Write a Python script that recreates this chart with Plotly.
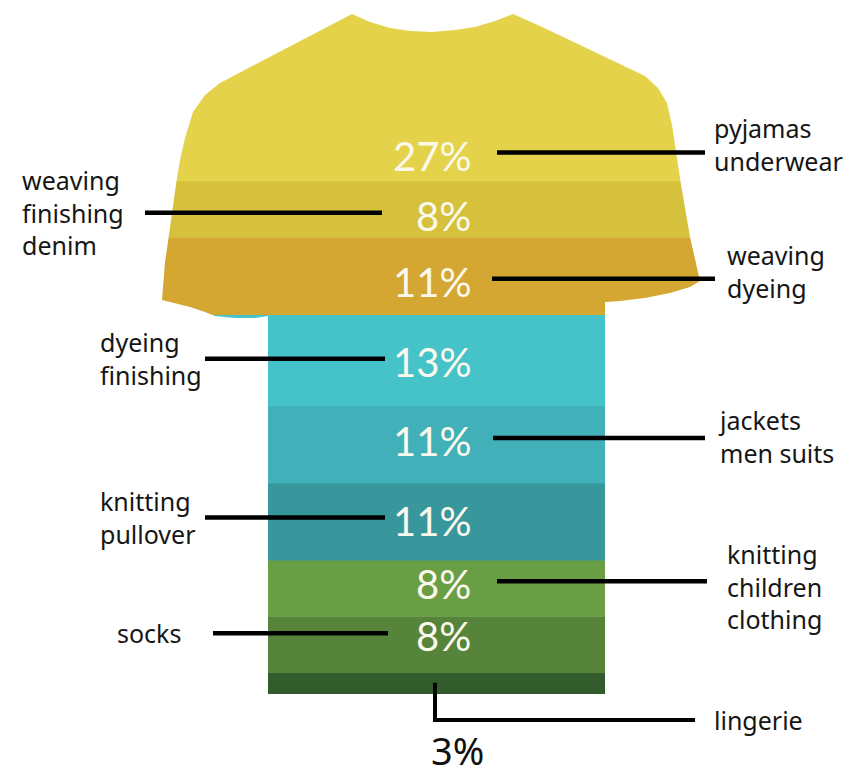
import plotly.graph_objects as go

# ---------------- data (bottom band first) ----------------
categories = ["lingerie", "socks", "knitting<br>children<br>clothing", "knitting<br>pullover",
              "jackets<br>men suits", "dyeing<br>finishing", "weaving<br>dyeing",
              "weaving<br>finishing<br>denim", "pyjamas<br>underwear"]
shares = [3, 8, 8, 11, 11, 13, 11, 8, 27]
value_labels = ["3%", "8%", "8%", "11%", "11%", "13%", "11%", "8%", "27%"]

# ---------------- style ----------------
colors = ["#335C2C", "#55843A", "#699E45", "#37979D", "#41B0B9",
          "#46C2C9", "#D4A733", "#D5C13B", "#E3D24A"]
sides = ["bottom", "left", "right", "left", "right", "left", "right", "left", "right"]
label_offset = [0, 1.2, 0.6, 0.2, 0.5, -0.2, -0.8, -0.9, -9.8]      # value-label shift (% units)
text_dy = [0, 0, -0.7, 0, 0.3, 0, 1.0, 0, 1.1]                       # side-label shift (% units)
text_x = [712, 115, 725, 98, 716, 98, 725, 20, 712]                  # side-label left edge
line_x = [None, (213, 388), (497, 707), (205, 385), (493, 705),
          (205, 385), (492, 715), (145, 382), (497, 705)]

PX0, PXS = 694.0, 7.02         # pixel <-> percent mapping of the y axis
def py(px):
    return (PX0 - px) / PXS

# T-shirt outline (pixel coordinates of the silhouette)
outline_px = [(352, 14), (370, 22), (390, 28), (410, 31), (432, 32), (455, 30), (475, 27),
              (495, 21), (513, 14), (540, 26), (580, 45), (620, 64), (645, 76), (658, 88),
              (667, 103), (672, 125), (677, 160), (683, 197), (690, 237), (696, 265),
              (700, 281), (690, 287), (670, 293), (645, 298), (620, 301), (605, 302),
              (605, 694), (268, 694), (268, 316), (255, 318), (235, 318), (215, 316),
              (205, 312), (190, 307), (162, 300), (165, 262), (170, 228), (175, 190),
              (180, 160), (185, 138), (193, 112), (205, 95), (220, 83), (260, 62),
              (300, 41), (330, 25)]
outline = [(x, py(y)) for x, y in outline_px]


def inter(p, q, y):
    t = (y - p[1]) / (q[1] - p[1])
    return (p[0] + t * (q[0] - p[0]), y)


def clip_half(pts, keep, ylim):
    out = []
    for i in range(len(pts)):
        cur, prev = pts[i], pts[i - 1]
        cin, pin = keep(cur[1]), keep(prev[1])
        if cin:
            if not pin:
                out.append(inter(prev, cur, ylim))
            out.append(cur)
        elif pin:
            out.append(inter(prev, cur, ylim))
    return out


def band(lo, hi):
    p = clip_half(outline, lambda y: y >= lo, lo)
    p = clip_half(p, lambda y: y <= hi, hi)
    return p


fig = go.Figure()
annotations = []
shapes = []
LABEL_FONT = dict(family="Noto Sans", size=25, color="#161616")

cum = 0
for i, (cat, s, vl) in enumerate(zip(categories, shares, value_labels)):
    lo, hi = cum, cum + s
    cum = hi
    # slight overlap with the next band hides anti-aliasing seams
    poly = band(lo, hi + (0.08 if i < len(shares) - 1 else 0))
    xs = [p[0] for p in poly] + [poly[0][0]]
    ys = [p[1] for p in poly] + [poly[0][1]]
    fig.add_trace(go.Scatter(x=xs, y=ys, mode="lines", fill="toself",
                             fillcolor=colors[i], line=dict(width=0, color=colors[i]),
                             hoverinfo="text", text=f"{cat.replace('<br>', ' ')}: {vl}",
                             showlegend=False))
    mid = (lo + hi) / 2
    if sides[i] == "bottom":
        # elbow leader from the band down to the label, value printed below the shirt
        y_end = py(720)
        shapes.append(dict(type="path", xref="x", yref="y",
                           path=f"M 435 {mid + 0.1} L 435 {y_end} L 695 {y_end}",
                           line=dict(color="black", width=4)))
        annotations.append(dict(x=text_x[i], y=y_end, text=cat, xanchor="left",
                                yanchor="middle", align="left", showarrow=False,
                                font=LABEL_FONT))
        annotations.append(dict(x=457, y=py(750), text=vl, xanchor="center",
                                yanchor="middle", showarrow=False, borderpad=0,
                                font=dict(family="Noto Sans", size=38, color="#111111")))
        continue
    ly = mid + label_offset[i]
    annotations.append(dict(x=473, y=ly, text=vl, xanchor="right", yanchor="middle",
                            showarrow=False,
                            font=dict(family="Lato", size=40, color="#FBF8EC")))
    lyy = ly + 0.45
    x0, x1 = line_x[i]
    shapes.append(dict(type="line", xref="x", yref="y", x0=x0, x1=x1, y0=lyy, y1=lyy,
                       line=dict(color="black", width=4.5)))
    annotations.append(dict(x=text_x[i], y=lyy + text_dy[i], text=cat, xanchor="left",
                            yanchor="middle", align="left", showarrow=False,
                            font=LABEL_FONT))

fig.update_layout(
    width=853, height=777,
    margin=dict(l=0, r=0, t=0, b=0),
    paper_bgcolor="white", plot_bgcolor="white",
    xaxis=dict(range=[0, 853], visible=False, fixedrange=True),
    yaxis=dict(range=[py(777), py(0)], visible=False, fixedrange=True),
    annotations=annotations, shapes=shapes,
    showlegend=False,
)

fig.write_html("out.html")
